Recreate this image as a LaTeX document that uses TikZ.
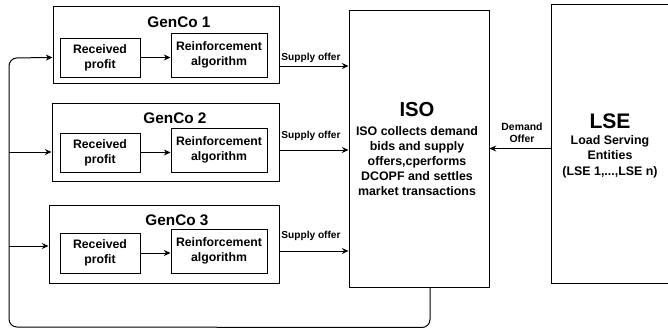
\documentclass[tikz,border=0pt]{standalone}
\usepackage{fontspec}
\setmainfont{Liberation Sans}
\usetikzlibrary{arrows.meta}

\begin{document}
\begin{tikzpicture}[x=0.75pt,y=0.75pt,yscale=-1,xscale=1,
  frame/.style={draw, line width=0.75pt, inner sep=0pt},
  lbl/.style={inner sep=0.75pt, align=center, font=\bfseries\fontsize{9.2}{11.2}\selectfont},
  ttl/.style={inner sep=0.75pt, font=\bfseries\fontsize{11.5}{13}\selectfont},
  tiny/.style={inner sep=0.75pt, align=center, font=\bfseries\fontsize{7.6}{9}\selectfont},
  flow/.style={line width=0.75pt, -{Stealth[length=5pt,width=4.5pt]}}]
\fill[white] (0,0) rectangle (668,332);
\clip (0,0) rectangle (668,332);

%Shape: Rectangle
\draw (166,44.5) node (gencoA) [frame, minimum width=169.5pt, minimum height=57.75pt] {};
\draw (165.5,142) node (gencoB) [frame, minimum width=170.25pt, minimum height=58.5pt] {};
\draw (164,244) node (gencoC) [frame, minimum width=172.5pt, minimum height=58.5pt] {};
%Shape: Rectangle
\draw (100,57.5) node (rpA) [frame, lbl, minimum width=60pt, minimum height=29.25pt] {Received\\profit};
\draw (100,152.5) node (rpB) [frame, lbl, minimum width=60pt, minimum height=29.25pt] {Received\\profit};
\draw (100,253) node (rpC) [frame, lbl, minimum width=60pt, minimum height=30pt] {Received\\profit};
%Shape: Rectangle
\draw (219,55) node (raA) [frame, lbl, minimum width=72pt, minimum height=33pt] {Reinforcement\\algorithm};
\draw (219,150) node (raB) [frame, lbl, minimum width=72pt, minimum height=33pt] {Reinforcement\\algorithm};
\draw (219,251) node (raC) [frame, lbl, minimum width=72pt, minimum height=33pt] {Reinforcement\\algorithm};
%Shape: Rectangle
\draw (419,148.5) node (iso) [frame, minimum width=105pt, minimum height=207.75pt] {};
\draw (610,143.5) node (lse) [frame, minimum width=88.5pt, minimum height=209.25pt] {};

% Text Node
\draw (179,22) node (tA) [ttl] {GenCo 1};
% Text Node
\draw (175,118) node (tB) [ttl] {GenCo 2};
% Text Node
\draw (177,220) node (tC) [ttl] {GenCo 3};
% Text Node
\draw (417,110) node (isoT) [inner sep=0.75pt, font=\bfseries\fontsize{15.2}{18}\selectfont] {ISO};
% Text Node
\draw (417,161) node (isoB) [lbl, font=\bfseries\fontsize{9.3}{11.25}\selectfont] {ISO collects demand\\bids and supply\\offers,cperforms\\DCOPF and settles\\market transactions};
% Text Node
\draw (610,121) node (lseT) [inner sep=0.75pt, font=\bfseries\fontsize{15.8}{18}\selectfont] {LSE};
% Text Node
\draw (610,156.5) node (lseB) [lbl, font=\bfseries\fontsize{9.3}{11.6}\selectfont] {Load Serving\\Entities\\(LSE 1,...,LSE n)};
% Text Node
\draw (522,133) node (dem) [tiny, font=\bfseries\fontsize{7.8}{9}\selectfont] {Demand\\Offer};
% Text Node
\draw (311,58) node (sA) [tiny] {Supply offer};
\draw (311,136) node (sB) [tiny] {Supply offer};
\draw (311,236) node (sC) [tiny] {Supply offer};

%Straight Lines
\draw [flow] (rpA) -- (raA.west |- rpA);
\draw [flow] (rpB) -- (raB.west |- rpB);
\draw [flow] (rpC) -- (raC.west |- rpC);
%Straight Lines
\draw [flow] (gencoA.east |- 0,66) -- (iso.west |- 0,66);
\draw [flow] (gencoB.east |- raB) -- (iso.west |- raB);
\draw [flow] (gencoC.east |- raC) -- (iso.west |- raC);
%Straight Lines
\draw [flow] (lse.west |- iso.east) -- (iso.east);

%Feedback loop
\coordinate (jB) at (9,152);
\coordinate (jC) at (9,246);
\draw [flow, rounded corners=6pt] ([xshift=8.25pt]iso.south) -- ++(0,40) -- (9,327) -- (9,58) -- (gencoA.west |- rpA);
\draw [flow] (jB) -- (gencoB.west |- jB);
\draw [flow] (jC) -- (gencoC.west |- jC);

\end{tikzpicture}
\end{document}
